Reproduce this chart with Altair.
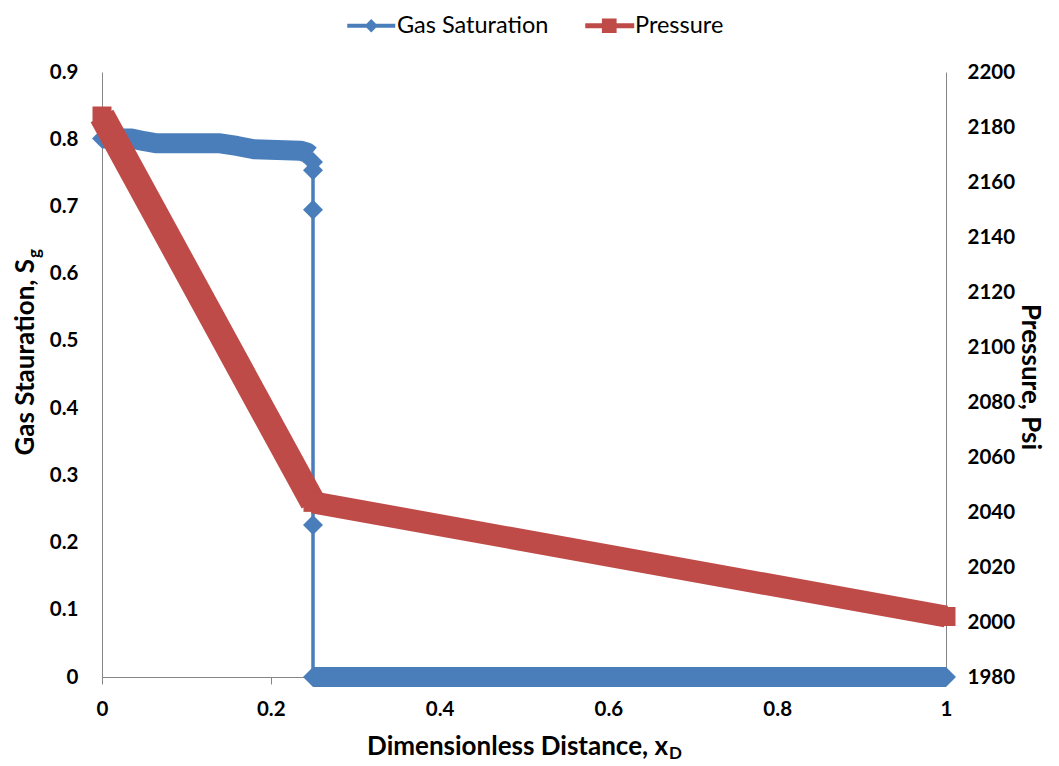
import altair as alt
import pandas as pd

BLUE = "#4A7EBB"
RED = "#BE4B48"
GRAY = "#868686"
FONT = "Lato"

# ---- data ----
# Gas saturation: dense-marker band upstream of the front
gas_band_x = [0.0, 0.035, 0.05, 0.065, 0.14, 0.16, 0.18, 0.235, 0.243, 0.247]
gas_band_y = [0.801, 0.801, 0.797, 0.794, 0.794, 0.790, 0.785, 0.783, 0.780, 0.776]
# shock front (vertical drop)
gas_front_x = [0.249, 0.25, 0.25, 0.25, 0.25, 0.25]
gas_front_y = [0.770, 0.766, 0.754, 0.695, 0.226, 0.0]
# downstream, zero saturation
gas_tail_x = [0.25, 1.0]
gas_tail_y = [0.0, 0.0]

# Pressure, Psi
pres_x = [0.0, 0.25, 1.0]
pres_y = [2184.0, 2043.5, 2002.0]

x_ticks = [0, 0.2, 0.4, 0.6, 0.8, 1.0]
sg_ticks = [0, 0.1, 0.2, 0.3, 0.4, 0.5, 0.6, 0.7, 0.8, 0.9]
p_ticks = [1980, 2000, 2020, 2040, 2060, 2080, 2100, 2120, 2140, 2160, 2180, 2200]

series_names = ["Gas Saturation", "Pressure"]
x_title = "Dimensionless Distance, x"
x_title_sub = "D"
sg_title = "Gas Stauration, S"
sg_title_sub = "g"
p_title = "Pressure, Psi"

# ---- tables ----
df_band = pd.DataFrame({"x": gas_band_x, "sg": gas_band_y})
df_front = pd.DataFrame({"x": gas_front_x, "sg": gas_front_y})
df_tail = pd.DataFrame({"x": gas_tail_x, "sg": gas_tail_y})
df_gpts = pd.DataFrame({
    "x": [gas_band_x[0]] + gas_front_x[1:] + gas_tail_x[1:],
    "sg": [gas_band_y[0]] + gas_front_y[1:] + gas_tail_y[1:],
})
df_gpts["series"] = series_names[0]
df_p1 = pd.DataFrame({"x": pres_x[:2], "p": pres_y[:2]})
df_p2 = pd.DataFrame({"x": pres_x[1:], "p": pres_y[1:]})
df_ppts = pd.DataFrame({"x": pres_x, "p": pres_y})
df_ppts["series"] = series_names[1]
df_one = pd.DataFrame({"a": [0]})

X = alt.X("x:Q", scale=alt.Scale(domain=[0, 1], nice=False),
          axis=alt.Axis(values=x_ticks, format=".1~f", title=None, tickSize=7,
                        labelPadding=15, labelFlush=False, grid=False))
Y_SG = alt.Y("sg:Q", scale=alt.Scale(domain=[0, 0.9], nice=False),
             axis=alt.Axis(orient="left", values=sg_ticks, format=".1~f", title=None,
                           ticks=False, tickSize=0, labelPadding=24, labelFlush=False, grid=False))
Y_P = alt.Y("p:Q", scale=alt.Scale(domain=[1980, 2200], nice=False, zero=False),
            axis=alt.Axis(orient="right", values=p_ticks, format="d", title=None,
                          ticks=False, tickSize=0, labelPadding=21, labelFlush=False, grid=False))

GAS_SYM = "M-3.43,-0.29H3.43V0.29H-3.43Z M0,-0.95L0.95,0L0,0.95L-0.95,0Z"
PRES_SYM = "M-3.43,-0.34H3.57V0.34H-3.43Z M-1.05,-1.05H1.05V1.05H-1.05Z"

leg_common = dict(title=None, orient="none", symbolSize=196, symbolStrokeWidth=0,
                  labelFont=FONT, labelFontSize=23.5, labelFontWeight="normal",
                  labelColor="black", labelOffset=14, labelLimit=400)

gas_band = alt.Chart(df_band).mark_line(color=BLUE, strokeWidth=20, strokeJoin="round").encode(x=X, y=Y_SG)
gas_thin = alt.Chart(df_front).mark_line(color=BLUE, strokeWidth=3.5).encode(x=X, y=Y_SG)
gas_tail = alt.Chart(df_tail).mark_line(color=BLUE, strokeWidth=20).encode(x=X, y=Y_SG)
gas_pts = alt.Chart(df_gpts).mark_point(shape="diamond", filled=True, size=400, opacity=1,
                                        strokeWidth=0).encode(
    x=X, y=Y_SG,
    color=alt.Color("series:N", scale=alt.Scale(domain=[series_names[0]], range=[BLUE]),
                    legend=alt.Legend(symbolType=GAS_SYM, legendX=257.5, legendY=-58, **leg_common)))

p_steep = alt.Chart(df_p1).mark_line(color=RED, strokeWidth=25.8).encode(x=X, y=Y_P)
p_flat = alt.Chart(df_p2).mark_line(color=RED, strokeWidth=22.1).encode(x=X, y=Y_P)
p_pts = alt.Chart(df_ppts).mark_point(shape="square", filled=True, size=361, opacity=1,
                                      strokeWidth=0).encode(
    x=X, y=Y_P,
    color=alt.Color("series:N", scale=alt.Scale(domain=[series_names[1]], range=[RED]),
                    legend=alt.Legend(symbolType=PRES_SYM, legendX=495.5, legendY=-58, **leg_common)))

TF = 26
SF = 17
t_x = alt.Chart(df_one).mark_text(font=FONT, fontSize=TF, fontWeight="bold", align="right",
                                  baseline="alphabetic", color="black").encode(
    x=alt.value(566), y=alt.value(683), text=alt.value(x_title))
t_xs = alt.Chart(df_one).mark_text(font=FONT, fontSize=SF, fontWeight="bold", align="left",
                                   baseline="alphabetic", color="black").encode(
    x=alt.value(567), y=alt.value(687), text=alt.value(x_title_sub))
t_sg = alt.Chart(df_one).mark_text(font=FONT, fontSize=TF, fontWeight="bold", align="right",
                                   baseline="alphabetic", angle=270, color="black").encode(
    x=alt.value(-68), y=alt.value(187), text=alt.value(sg_title))
t_sgs = alt.Chart(df_one).mark_text(font=FONT, fontSize=SF, fontWeight="bold", align="left",
                                    baseline="alphabetic", angle=270, color="black").encode(
    x=alt.value(-62), y=alt.value(186), text=alt.value(sg_title_sub))
t_p = alt.Chart(df_one).mark_text(font=FONT, fontSize=TF, fontWeight="bold", align="center",
                                  baseline="alphabetic", angle=90, color="black").encode(
    x=alt.value(920), y=alt.value(305), text=alt.value(p_title))

gas = alt.layer(gas_band, gas_thin, gas_tail, gas_pts)
pres = alt.layer(p_steep, p_flat, p_pts)
titles = alt.layer(t_x, t_xs, t_sg, t_sgs, t_p)

chart = alt.layer(gas, pres, titles).resolve_scale(
    y="independent", color="independent"
).properties(
    width=844, height=605,
    padding={"left": 94, "top": 64, "right": 105, "bottom": 87},
    autosize=alt.AutoSizeParams(type="none"),
).configure_axis(
    labelFont=FONT, labelFontSize=20.5, labelFontWeight="bold", labelColor="black",
    domainColor=GRAY, tickColor=GRAY, domainWidth=1, tickWidth=1,
).configure_view(stroke=None)

chart.save("out.html", embed_options={"renderer": "svg", "actions": False})
